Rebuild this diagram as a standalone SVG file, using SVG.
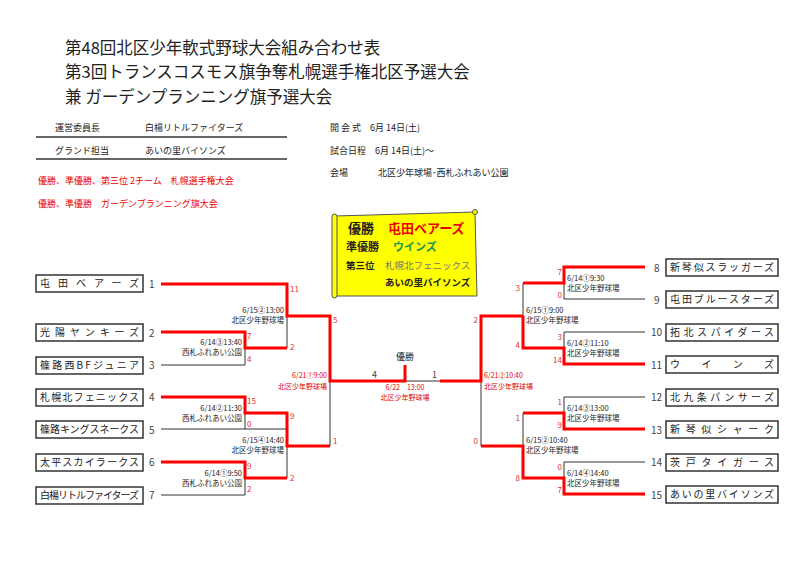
<svg xmlns="http://www.w3.org/2000/svg" width="800" height="566" viewBox="0 0 800 566">
<style>
text{font-family:"Noto Sans CJK JP","Noto Sans",sans-serif;fill:#222}
.t{font-size:16.5px}
.h{font-size:9px}
.red{fill:#e00}
.box rect{fill:#fff;stroke:#333;stroke-width:1.5}
.box text{font-size:10px}
.n{font-size:10px;fill:#444}
.s{font-size:8px;fill:#d33}
.m{font-size:7.5px}
.mr{font-size:7px;fill:#d00}
.k{stroke:#333;stroke-width:1;fill:none}
.r{stroke:#f00;stroke-width:3;fill:none}
</style>
<rect width="800" height="566" fill="#fff"/>
<g id="title">
<text class="t" x="65" y="54">第48回北区少年軟式野球大会組み合わせ表</text>
<text class="t" x="65" y="78">第3回トランスコスモス旗争奪札幌選手権北区予選大会</text>
<text class="t" x="65" y="103">兼 ガーデンプランニング旗予選大会</text>
</g>
<g id="header">
<text class="h" x="55" y="131">運営委員長</text><text class="h" x="145" y="131">白楊リトルファイターズ</text>
<line x1="36" y1="137" x2="287" y2="137" stroke="#333" stroke-width="1.5"/>
<text class="h" x="55" y="154">グランド担当</text><text class="h" x="145" y="154">あいの里バイソンズ</text>
<line x1="36" y1="159" x2="287" y2="159" stroke="#333" stroke-width="1.5"/>
<text class="h red" x="38" y="184">優勝、準優勝、第三位 2チーム　札幌選手権大会</text>
<text class="h red" x="38" y="207">優勝、準優勝　ガーデンプランニング旗大会</text>
<text class="h" x="330" y="131">開 会 式　6月 14日(土)</text>
<text class="h" x="330" y="154">試合日程　6月 14日(土)～</text>
<text class="h" x="330" y="176">会場</text><text class="h" x="378" y="176">北区少年球場･西札ふれあい公園</text>
</g>
<g id="trophy">
<path d="M335,216 L475,212 L477,296 L335,296 Z" fill="#ff0" stroke="#555" stroke-width="1"/>
<rect x="332" y="214" width="5" height="84" rx="2.5" fill="#ff0" stroke="#555"/>
<circle cx="475" cy="212" r="2.5" fill="#ff0" stroke="#555"/>
<text x="348" y="233" style="font-size:13px;font-weight:bold">優勝</text>
<text x="388" y="233" style="font-size:13px;font-weight:bold;fill:#e00">屯田ベアーズ</text>
<text x="346" y="251" style="font-size:11px;font-weight:bold">準優勝</text>
<text x="393" y="251" style="font-size:11px;font-weight:bold;fill:#1a9a50">ウインズ</text>
<text x="346" y="269" style="font-size:9.5px;font-weight:bold">第三位</text>
<text x="385" y="269" style="font-size:9.5px;fill:#777">札幌北フェニックス</text>
<text x="385" y="286" style="font-size:9.5px;font-weight:bold">あいの里バイソンズ</text>
</g>
<g id="teams-left" class="box">
<g id="t1"><rect x="36" y="275" width="107" height="17"/><text x="40" y="287" textLength="99" lengthAdjust="spacing">屯田ベアーズ</text><text class="n" x="149" y="288">1</text></g>
<g id="t2"><rect x="36" y="324" width="107" height="17"/><text x="40" y="336" textLength="99" lengthAdjust="spacing">光陽ヤンキーズ</text><text class="n" x="149" y="337">2</text></g>
<g id="t3"><rect x="36" y="357" width="107" height="17"/><text x="40" y="369" textLength="99" lengthAdjust="spacing">篠路西BFジュニア</text><text class="n" x="149" y="369">3</text></g>
<g id="t4"><rect x="36" y="389" width="107" height="17"/><text x="40" y="401" textLength="99" lengthAdjust="spacing">札幌北フェニックス</text><text class="n" x="149" y="401">4</text></g>
<g id="t5"><rect x="36" y="421" width="107" height="17"/><text x="40" y="433" textLength="99" lengthAdjust="spacing">篠路キングスネークス</text><text class="n" x="149" y="434">5</text></g>
<g id="t6"><rect x="36" y="454" width="107" height="17"/><text x="40" y="466" textLength="99" lengthAdjust="spacing">太平スカイラークス</text><text class="n" x="149" y="466">6</text></g>
<g id="t7"><rect x="36" y="487" width="107" height="17"/><text x="40" y="499" textLength="99" lengthAdjust="spacing">白楊リトルファイターズ</text><text class="n" x="149" y="499">7</text></g>
</g>
<g id="teams-right" class="box">
<g id="t8"><rect x="666" y="259" width="112" height="17"/><text x="670" y="271" textLength="104" lengthAdjust="spacing">新琴似スラッガーズ</text><text class="n" x="654" y="272">8</text></g>
<g id="t9"><rect x="666" y="291" width="112" height="17"/><text x="670" y="303" textLength="104" lengthAdjust="spacing">屯田ブルースターズ</text><text class="n" x="654" y="304">9</text></g>
<g id="t10"><rect x="666" y="324" width="112" height="17"/><text x="670" y="336" textLength="104" lengthAdjust="spacing">拓北スパイダース</text><text class="n" x="651" y="336">10</text></g>
<g id="t11"><rect x="666" y="356" width="112" height="17"/><text x="670" y="368" textLength="104" lengthAdjust="spacing">ウインズ</text><text class="n" x="651" y="369">11</text></g>
<g id="t12"><rect x="666" y="389" width="112" height="17"/><text x="670" y="401" textLength="104" lengthAdjust="spacing">北九条パンサーズ</text><text class="n" x="651" y="401">12</text></g>
<g id="t13"><rect x="666" y="421" width="112" height="17"/><text x="670" y="433" textLength="104" lengthAdjust="spacing">新琴似シャーク</text><text class="n" x="651" y="434">13</text></g>
<g id="t14"><rect x="666" y="454" width="112" height="17"/><text x="670" y="466" textLength="104" lengthAdjust="spacing">茨戸タイガース</text><text class="n" x="651" y="466">14</text></g>
<g id="t15"><rect x="666" y="486" width="112" height="17"/><text x="670" y="498" textLength="104" lengthAdjust="spacing">あいの里バイソンズ</text><text class="n" x="651" y="499">15</text></g>
</g>
<g id="connectors">
<path class="k" d="M161,365 H245 V348 M287,316 V348 M245,429 H287 M245,413 V429 M287,446 V478 M161,495 H245 V478 M330,381 V446 M405,381 H440 M481,381 V446 M564,283 V299 H645 M523,283 V316 M564,332 H645 M564,332 V348 M564,397 H645 M564,397 V413 M523,413 V446 M564,462 H645 M564,462 V478"/>
<path class="k" d="M161,429 H245"/>
<path class="r" d="M161,284 H287 V316 H330 V381 H405 V365"/>
<path class="r" d="M161,332 H245 V348 H287"/>
<path class="r" d="M161,397 H245 V413 H287 V446 H330"/>
<path class="r" d="M161,462 H245 V478 H287"/>
<path class="r" d="M440,381 H481 V316 H523"/>
<path class="r" d="M645,267 H564 V283 H523"/>
<path class="r" d="M523,316 V348 H564 V364 H645"/>
<path class="r" d="M481,446 H523 V478 H564 V494 H645"/>
<path class="r" d="M523,413 H564 V429 H645"/>
</g>
<g id="labels">
<text class="s" x="290" y="292">11</text><text class="s" x="290" y="350">2</text>
<text class="s" x="247" y="339">7</text><text class="s" x="247" y="362">4</text>
<text class="s" x="333" y="323">5</text><text class="s" x="333" y="444">1</text>
<text class="s" x="247" y="404">15</text><text class="s" x="247" y="427">0</text>
<text class="s" x="290" y="419">9</text><text class="s" x="290" y="481">2</text>
<text class="s" x="247" y="469">9</text><text class="s" x="247" y="492">2</text>
<text class="m" x="284" y="313" text-anchor="end">6/15②13:00</text><text class="m" x="284" y="323" text-anchor="end">北区少年野球場</text>
<text class="m" x="242" y="345" text-anchor="end">6/14③13:40</text><text class="m" x="242" y="355" text-anchor="end">西札ふれあい公園</text>
<text class="m" x="242" y="411" text-anchor="end">6/14②11:30</text><text class="m" x="242" y="421" text-anchor="end">西札ふれあい公園</text>
<text class="m" x="284" y="443" text-anchor="end">6/15④14:40</text><text class="m" x="284" y="453" text-anchor="end">北区少年野球場</text>
<text class="m" x="242" y="476" text-anchor="end">6/14①9:50</text><text class="m" x="242" y="486" text-anchor="end">西札ふれあい公園</text>
<text class="mr" x="327" y="378" text-anchor="end">6/21①9:00</text><text class="mr" x="327" y="389" text-anchor="end">北区少年野球場</text>
<text x="405" y="360" text-anchor="middle" style="font-size:9px">優勝</text>
<text class="n" x="372" y="378" style="font-size:9px">4</text><text class="n" x="432" y="378" style="font-size:9px">1</text>
<text class="mr" x="405" y="390" text-anchor="middle">6/22　13:00</text><text class="mr" x="405" y="400" text-anchor="middle">北区少年野球場</text>
<text class="mr" x="484" y="378">6/21②10:40</text><text class="mr" x="484" y="389">北区少年野球場</text>
<text class="s" x="478" y="323" text-anchor="end">2</text><text class="s" x="478" y="444" text-anchor="end">0</text>
<text class="s" x="520" y="291" text-anchor="end">3</text><text class="s" x="520" y="348" text-anchor="end">4</text>
<text class="s" x="520" y="421" text-anchor="end">1</text><text class="s" x="520" y="481" text-anchor="end">8</text>
<text class="s" x="562" y="275" text-anchor="end">7</text><text class="s" x="562" y="298" text-anchor="end">0</text>
<text class="s" x="562" y="340" text-anchor="end">3</text><text class="s" x="562" y="363" text-anchor="end">14</text>
<text class="s" x="562" y="405" text-anchor="end">1</text><text class="s" x="562" y="428" text-anchor="end">9</text>
<text class="s" x="562" y="470" text-anchor="end">0</text><text class="s" x="562" y="493" text-anchor="end">7</text>
<text class="m" x="567" y="281">6/14①9:30</text><text class="m" x="567" y="291">北区少年野球場</text>
<text class="m" x="526" y="313">6/15①9:00</text><text class="m" x="526" y="323">北区少年野球場</text>
<text class="m" x="567" y="346">6/14②11:10</text><text class="m" x="567" y="356">北区少年野球場</text>
<text class="m" x="567" y="411">6/14③13:00</text><text class="m" x="567" y="421">北区少年野球場</text>
<text class="m" x="526" y="443">6/15②10:40</text><text class="m" x="526" y="453">北区少年野球場</text>
<text class="m" x="567" y="476">6/14④14:40</text><text class="m" x="567" y="486">北区少年野球場</text>
</g>
</svg>
